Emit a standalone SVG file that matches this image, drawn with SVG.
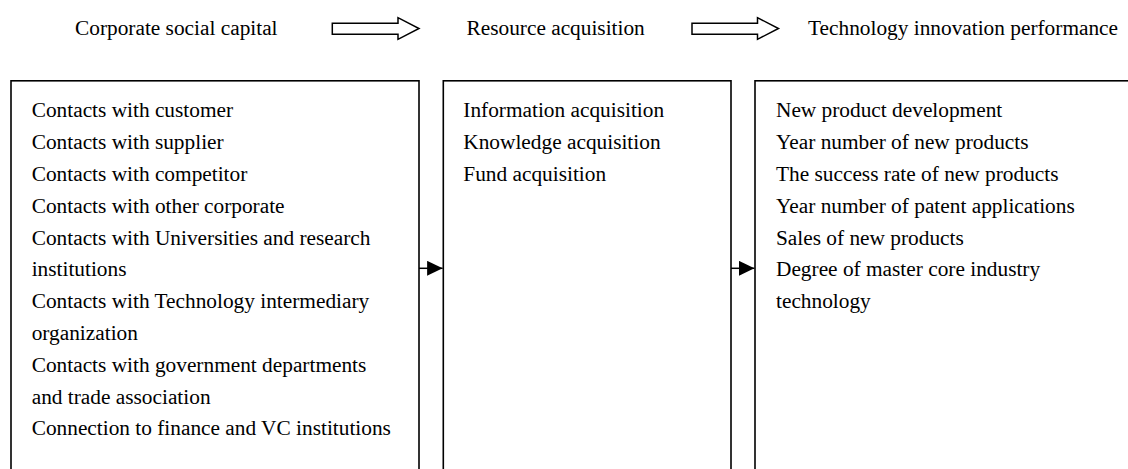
<svg xmlns="http://www.w3.org/2000/svg" width="1128" height="469" viewBox="0 0 1128 469">
  <style>
    text { font-family: "Liberation Serif", "Times New Roman", serif; font-size: 21.33px; fill: #000; }
    .box { fill: #fff; stroke: #000; stroke-width: 1.6; }
    .block { fill: #fff; stroke: #000; stroke-width: 1.5; stroke-linejoin: miter; }
    .link { stroke: #000; stroke-width: 1.5; fill: none; }
  </style>
  <defs>
    <marker id="head" markerUnits="userSpaceOnUse" markerWidth="16" markerHeight="16" refX="15.5" refY="7.5" orient="auto">
      <path d="M0,0 L15.5,7.5 L0,15 Z" fill="#000"/>
    </marker>
  </defs>
  <rect width="1128" height="469" fill="#fff"/>

  <g id="title-social-capital"><text x="75" y="34.5">Corporate social capital</text></g>
  <g id="title-resource"><text x="466.5" y="34.5">Resource acquisition</text></g>
  <g id="title-performance"><text x="808" y="34.5">Technology innovation performance</text></g>

  <g id="box-social-capital">
    <rect class="box" x="11" y="80.8" width="408" height="420"/>
    <text x="31.7" y="117.3">Contacts with customer</text>
    <text x="31.7" y="149.1">Contacts with supplier</text>
    <text x="31.7" y="180.9">Contacts with competitor</text>
    <text x="31.7" y="212.7">Contacts with other corporate</text>
    <text x="31.7" y="244.5">Contacts with Universities and research</text>
    <text x="31.7" y="276.3">institutions</text>
    <text x="31.7" y="308.1">Contacts with Technology intermediary</text>
    <text x="31.7" y="339.9">organization</text>
    <text x="31.7" y="371.7">Contacts with government departments</text>
    <text x="31.7" y="403.5">and trade association</text>
    <text x="31.7" y="435.3">Connection to finance and VC institutions</text>
  </g>

  <g id="box-resource">
    <rect class="box" x="443.3" y="80.8" width="287.7" height="420"/>
    <text x="463.3" y="117.3">Information acquisition</text>
    <text x="463.3" y="149.1">Knowledge acquisition</text>
    <text x="463.3" y="180.9">Fund acquisition</text>
  </g>

  <g id="box-performance">
    <rect class="box" x="755" y="80.8" width="400" height="420"/>
    <text x="776" y="117.3">New product development</text>
    <text x="776" y="149.1">Year number of new products</text>
    <text x="776" y="180.9">The success rate of new products</text>
    <text x="776" y="212.7">Year number of patent applications</text>
    <text x="776" y="244.5">Sales of new products</text>
    <text x="776" y="276.3">Degree of master core industry</text>
    <text x="776" y="308.1">technology</text>
  </g>

  <g id="connectors">
    <path class="block" d="M332.3,23.3 H398 V17.7 L419,28.5 L398,39.3 V34.3 H332.3 Z"/>
    <path class="block" d="M692,23.3 H757.5 V17.7 L778.5,28.5 L757.5,39.3 V34.3 H692 Z"/>
    <line class="link" x1="419" y1="268.3" x2="442.6" y2="268.3" marker-end="url(#head)"/>
    <line class="link" x1="731" y1="268.3" x2="754.4" y2="268.3" marker-end="url(#head)"/>
  </g>
</svg>
